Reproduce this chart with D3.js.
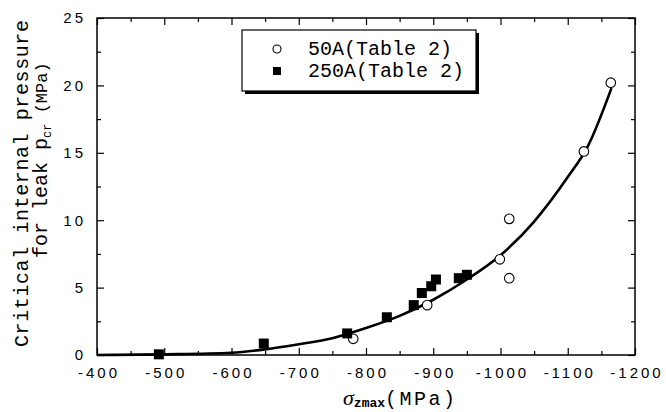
<!DOCTYPE html>
<html>
<head>
<meta charset="utf-8">
<script src="https://cdn.jsdelivr.net/npm/d3@7/dist/d3.min.js"></script>
<style>
  html, body { margin: 0; padding: 0; background: #fff; }
  svg { display: block; }
  .tick-label { font-family: "Liberation Sans", Arial, sans-serif; font-size: 15px; letter-spacing: 3px; fill: #000; }
  .mono { font-family: "Liberation Mono", "Courier New", monospace; fill: #000; }
</style>
</head>
<body>
<svg id="chart" width="666" height="412"></svg>
<script>
// Axis tick values
const xMajorTicks = [-400, -500, -600, -700, -800, -900, -1000, -1100, -1200];
const xMinorTicks = [-450, -550, -650, -750, -850, -950, -1050, -1150];
const yMajorTicks = [0, 5, 10, 15, 20, 25];
const yMinorTicks = [2.5, 7.5, 12.5, 17.5, 22.5];

// 50A specimens: [sigma_zmax (MPa), p_cr (MPa)]
const series50A = [
  [-781, 1.2], [-891, 3.7], [-999, 7.1], [-1013, 10.1],
  [-1013, 5.7], [-1124, 15.1], [-1164, 20.2]
];
// 250A specimens
const series250A = [
  [-492, 0.05], [-648, 0.85], [-772, 1.6], [-831, 2.8], [-871, 3.7],
  [-883, 4.6], [-897, 5.1], [-904, 5.6], [-938, 5.7], [-950, 5.95]
];
// Fitted curve through both series
const fitCurve = [
  [-400, 0.0], [-500, 0.05], [-600, 0.17], [-650, 0.42], [-700, 0.8],
  [-750, 1.25], [-800, 2.0], [-850, 2.9], [-900, 4.1], [-950, 5.6],
  [-1000, 7.4], [-1050, 9.9], [-1100, 13.2], [-1130, 15.5], [-1165, 19.8]
];
const legendLabels = ["50A(Table 2)", "250A(Table 2)"];

const svg = d3.select("#chart");
const mLeft = 97, mRight = 635, mTop = 18, mBottom = 355;

const x = d3.scaleLinear().domain([-400, -1200]).range([mLeft, mRight]);
const y = d3.scaleLinear().domain([0, 25]).range([mBottom, mTop]);
const plain = d => String(d);

function styleAxis(g) {
  g.select(".domain").remove();
  g.selectAll(".tick line").attr("stroke", "#000").attr("stroke-width", 1.2);
}

// Bottom axis with labels (ticks point inward)
svg.append("g").attr("transform", `translate(0,${mBottom})`)
  .call(d3.axisBottom(x).tickValues(xMajorTicks).tickSize(-7).tickPadding(12).tickFormat(plain))
  .call(styleAxis)
  .call(g => g.selectAll("text").attr("class", "tick-label").attr("dx", "1.5px"));
svg.append("g").attr("transform", `translate(0,${mBottom})`)
  .call(d3.axisBottom(x).tickValues(xMinorTicks).tickSize(-4).tickFormat(""))
  .call(styleAxis);

// Top axis, ticks only
svg.append("g").attr("transform", `translate(0,${mTop})`)
  .call(d3.axisTop(x).tickValues(xMajorTicks).tickSize(-7).tickFormat(""))
  .call(styleAxis);
svg.append("g").attr("transform", `translate(0,${mTop})`)
  .call(d3.axisTop(x).tickValues(xMinorTicks).tickSize(-4).tickFormat(""))
  .call(styleAxis);

// Left axis with labels
svg.append("g").attr("transform", `translate(${mLeft},0)`)
  .call(d3.axisLeft(y).tickValues(yMajorTicks).tickSize(-7).tickPadding(11).tickFormat(plain))
  .call(styleAxis)
  .call(g => g.selectAll("text").attr("class", "tick-label"));
svg.append("g").attr("transform", `translate(${mLeft},0)`)
  .call(d3.axisLeft(y).tickValues(yMinorTicks).tickSize(-4).tickFormat(""))
  .call(styleAxis);

// Right axis, ticks only
svg.append("g").attr("transform", `translate(${mRight},0)`)
  .call(d3.axisRight(y).tickValues(yMajorTicks).tickSize(-7).tickFormat(""))
  .call(styleAxis);
svg.append("g").attr("transform", `translate(${mRight},0)`)
  .call(d3.axisRight(y).tickValues(yMinorTicks).tickSize(-4).tickFormat(""))
  .call(styleAxis);

// Plot frame
svg.append("rect")
  .attr("x", mLeft).attr("y", mTop)
  .attr("width", mRight - mLeft).attr("height", mBottom - mTop)
  .attr("fill", "none").attr("stroke", "#000").attr("stroke-width", 1.5);

// Fitted curve
const line = d3.line().x(d => x(d[0])).y(d => y(d[1])).curve(d3.curveMonotoneX);
svg.append("path").datum(fitCurve)
  .attr("d", line)
  .attr("fill", "none").attr("stroke", "#000").attr("stroke-width", 2.6);

// 50A: open circles
svg.append("g").selectAll("circle").data(series50A).join("circle")
  .attr("cx", d => x(d[0])).attr("cy", d => y(d[1])).attr("r", 4.8)
  .attr("fill", "#fff").attr("stroke", "#000").attr("stroke-width", 1.1);

// 250A: filled squares
const sq = 10;
svg.append("g").selectAll("rect").data(series250A).join("rect")
  .attr("x", d => x(d[0]) - sq / 2).attr("y", d => y(d[1]) - sq / 2)
  .attr("width", sq).attr("height", sq).attr("fill", "#000");

// Legend box with drop shadow
const lg = svg.append("g");
lg.append("rect").attr("x", 245).attr("y", 33).attr("width", 234).attr("height", 61).attr("fill", "#000");
lg.append("rect").attr("x", 242).attr("y", 30).attr("width", 234).attr("height", 61)
  .attr("fill", "#fff").attr("stroke", "#000").attr("stroke-width", 1.2);
lg.append("circle").attr("cx", 277).attr("cy", 49).attr("r", 4)
  .attr("fill", "#fff").attr("stroke", "#000").attr("stroke-width", 1.1);
lg.append("rect").attr("x", 273).attr("y", 67).attr("width", 8).attr("height", 8).attr("fill", "#000");
lg.selectAll("text.leg").data(legendLabels).join("text")
  .attr("class", "mono leg")
  .attr("x", 308).attr("y", (d, i) => 55 + i * 22)
  .style("font-size", "20px")
  .text(d => d);

// X axis title: sigma_zmax (MPa)
const xt = svg.append("text").attr("x", 343).attr("y", 405);
xt.append("tspan").text("σ")
  .style("font-family", "'Liberation Serif', 'Times New Roman', serif")
  .style("font-style", "italic").style("font-size", "22px");
xt.append("tspan").text("zmax").attr("dy", 2)
  .attr("class", "mono").style("font-size", "13px").style("font-weight", "bold");
xt.append("tspan").text("(MPa)").attr("dy", -2)
  .attr("class", "mono").style("font-size", "20px").style("letter-spacing", "2.5px");

// Y axis title, two rotated lines
svg.append("text")
  .attr("class", "mono")
  .attr("transform", "translate(28,347) rotate(-90)")
  .attr("textLength", 327).attr("lengthAdjust", "spacing")
  .style("font-size", "20px")
  .text("Critical internal pressure");

const yt2 = svg.append("text")
  .attr("class", "mono")
  .attr("transform", "translate(47,258) rotate(-90)")
  .style("font-size", "20px");
yt2.append("tspan").text("for leak p");
yt2.append("tspan").text("cr").attr("dy", 4).style("font-size", "12px");
yt2.append("tspan").text(" (MPa)").attr("dy", -4).style("font-size", "17px");
</script>
</body>
</html>
